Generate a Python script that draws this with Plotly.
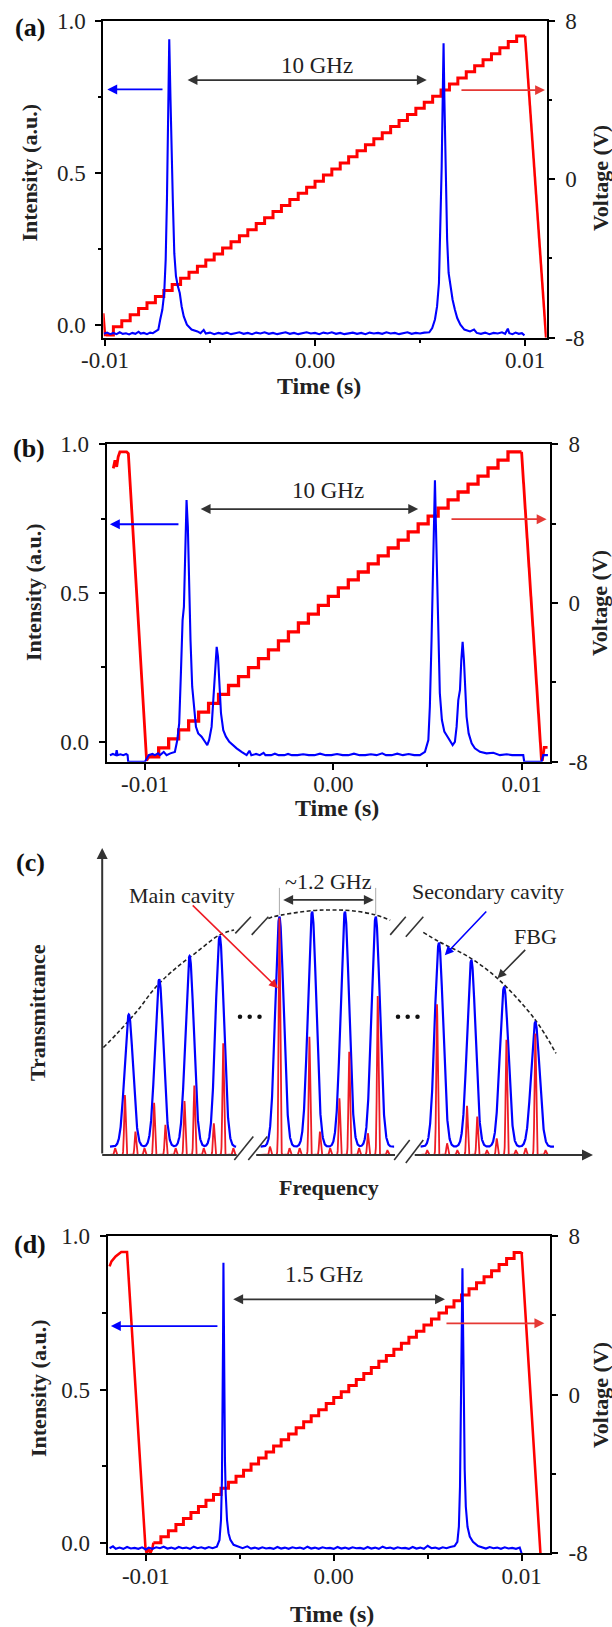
import numpy as np
import plotly.graph_objects as go

W, H = 612, 1627
SERIF = "Liberation Serif"
BLUE = "#0000ff"
RED = "#ff0000"
ARED = "#e53935"
DARK = "#333333"
TXT = "#222222"

# ======================= panel (a) data =======================
a_blue_ms = [-10.05, -9.90, -9.75, -9.60, -9.45, -9.30, -9.15, -9.00, -8.85, -8.70, -8.55, -8.40, -8.30, -8.15, -8.00, -7.85, -7.72, -7.64,
             -7.46, -7.37, -7.27, -7.18, -7.11, -7.05, -6.99, -6.94, -6.88, -6.83, -6.77, -6.70, -6.62, -6.53, -6.44, -6.35, -6.25, -6.10, -5.88, -5.60,
             -5.45, -5.30, -5.20, -5.00, -4.80, -4.60, -4.40, -4.20, -4.00, -3.80, -3.60, -3.40, -3.20, -3.00, -2.80, -2.60, -2.40, -2.20, -2.00,
             -1.80, -1.60, -1.40, -1.20, -1.00, -0.80, -0.60, -0.40, -0.20, 0.00, 0.20, 0.40, 0.60, 0.80, 1.00, 1.20, 1.40, 1.60, 1.80, 2.00, 2.20,
             2.40, 2.60, 2.80, 3.00, 3.20, 3.40, 3.60, 3.80, 4.00, 4.20, 4.40, 4.60, 4.80, 5.00, 5.20,
             5.44, 5.58, 5.71, 5.81, 5.90, 5.97, 6.03, 6.09, 6.12, 6.16, 6.22, 6.29, 6.36, 6.46, 6.55, 6.66, 6.77, 6.92, 7.11, 7.38, 7.57,
             7.70, 7.90, 8.10, 8.30, 8.50, 8.70, 8.90, 9.05, 9.18, 9.25, 9.40, 9.55, 9.70, 9.85, 9.97]
a_blue_I = [-0.029, -0.025, -0.030, -0.026, -0.030, -0.024, -0.029, -0.027, -0.031, -0.026, -0.029, -0.022, -0.028, -0.026, -0.030, -0.025, -0.027, -0.024,
            -0.015, 0.018, 0.050, 0.105, 0.214, 0.411, 0.685, 0.939, 0.740, 0.543, 0.411, 0.236, 0.160, 0.127, 0.105, 0.061, 0.028, 0.001, -0.015, -0.021,
            -0.027, -0.016, -0.028, -0.025, -0.030, -0.026, -0.029, -0.025, -0.030, -0.027, -0.024, -0.029, -0.026, -0.030, -0.025, -0.028, -0.024, -0.029, -0.026,
            -0.030, -0.027, -0.024, -0.029, -0.026, -0.030, -0.027, -0.024, -0.028, -0.026, -0.030, -0.025, -0.028, -0.024, -0.029, -0.026, -0.030, -0.027, -0.025, -0.029, -0.026,
            -0.030, -0.025, -0.028, -0.026, -0.029, -0.024, -0.028, -0.026, -0.030, -0.027, -0.024, -0.029, -0.026, -0.028, -0.025,
            -0.024, -0.010, 0.018, 0.061, 0.138, 0.302, 0.521, 0.794, 0.926, 0.740, 0.521, 0.280, 0.171, 0.116, 0.083, 0.050, 0.023, 0.001, -0.015, -0.021, -0.015,
            -0.026, -0.029, -0.025, -0.030, -0.026, -0.028, -0.024, -0.029, -0.012, -0.027, -0.030, -0.025, -0.029, -0.027, -0.034]
a_step_ms = [-9.95, -9.6, -9.2, -8.8, -8.4, -8.0, -7.6, -7.2, -6.8, -6.4, -6.0, -5.6, -5.2, -4.8, -4.4, -4.0, -3.6, -3.2, -2.8, -2.4, -2.0,
             -1.6, -1.2, -0.8, -0.4, 0.0, 0.4, 0.8, 1.2, 1.6, 2.0, 2.4, 2.8, 3.2, 3.6, 4.0, 4.4, 4.8, 5.2, 5.6, 6.0, 6.4, 6.8, 7.2, 7.6,
             8.0, 8.4, 8.8, 9.2, 9.6, 10.0]
a_step_V = [-7.86, -7.45, -7.15, -6.84, -6.53, -6.23, -5.92, -5.62, -5.31, -5.00, -4.70, -4.39, -4.08, -3.78, -3.47, -3.16, -2.86, -2.55, -2.24, -1.94, -1.63,
            -1.33, -1.02, -0.71, -0.41, -0.10, 0.21, 0.51, 0.82, 1.13, 1.43, 1.74, 2.04, 2.35, 2.66, 2.96, 3.27, 3.58, 3.88, 4.19, 4.50, 4.80, 5.11, 5.42, 5.72,
            6.03, 6.33, 6.64, 6.95, 7.23, 7.23]
a_edge_ms = [-10.08, -10.00, -9.95, None, 10.00, 10.95, 11.00]
a_edge_V = [-6.77, -7.86, -7.86, None, 7.23, -7.61, -8.00]

# ======================= panel (b) data =======================
b_blue_ms = [-11.86, -11.70, -11.55, -11.50, -11.45, -11.30, -11.15, -11.00, -10.92, -10.89, -10.00, -9.91, -9.80, -9.60, -9.47, -9.30, -9.20, -9.00,
             -8.85, -8.65, -8.50, -8.41, -8.28, -8.18, -8.09, -8.00, -7.93, -7.86, -7.79, -7.72, -7.65, -7.58, -7.49, -7.40, -7.29, -7.17, -6.99,
             -6.81, -6.69, -6.59, -6.46, -6.37, -6.28, -6.19, -6.12, -6.05, -5.96, -5.84, -5.70, -5.52, -5.35, -5.13, -4.87, -4.60, -4.45, -4.35,
             -4.10, -3.90, -3.70, -3.60, -3.30, -3.10, -2.90, -2.60, -2.40, -2.20, -1.90, -1.60, -1.30, -1.00, -0.70, -0.40, -0.10, 0.20, 0.50,
             0.80, 1.10, 1.40, 1.70, 2.00, 2.30, 2.60, 2.80, 3.10, 3.40, 3.70, 4.00, 4.30, 4.60, 4.87, 5.05, 5.13, 5.22, 5.28, 5.35, 5.40, 5.45,
             5.52, 5.59, 5.66, 5.77, 5.90, 6.02, 6.19, 6.34, 6.46, 6.55, 6.64, 6.73, 6.80, 6.87, 6.94, 7.01, 7.08, 7.19, 7.35, 7.52, 7.79, 8.14,
             8.50, 8.85, 9.21, 9.50, 9.74, 10.09, 10.14, 11.06, 11.15, 11.40]
b_blue_I = [-0.045, -0.041, -0.045, -0.028, -0.045, -0.042, -0.045, -0.041, -0.045, -0.067, -0.067, -0.058, -0.045, -0.041, -0.045, -0.039, -0.045, -0.034,
            -0.045, -0.039, -0.037, -0.034, 0.006, 0.062, 0.230, 0.409, 0.453, 0.678, 0.812, 0.722, 0.510, 0.342, 0.185, 0.118, 0.050, 0.028, 0.017,
            0.000, -0.011, 0.006, 0.050, 0.140, 0.252, 0.319, 0.286, 0.185, 0.095, 0.039, 0.017, 0.000, -0.011, -0.022, -0.034, -0.045, -0.030, -0.045,
            -0.041, -0.045, -0.037, -0.045, -0.045, -0.040, -0.045, -0.045, -0.041, -0.045, -0.045, -0.042, -0.045, -0.045, -0.040, -0.045, -0.045, -0.041, -0.045,
            -0.045, -0.040, -0.045, -0.045, -0.042, -0.045, -0.039, -0.045, -0.045, -0.040, -0.045, -0.041, -0.045, -0.045, -0.034, 0.006, 0.118, 0.342, 0.510, 0.733, 0.879, 0.733,
            0.510, 0.319, 0.163, 0.073, 0.034, 0.022, 0.006, -0.011, 0.000, 0.050, 0.140, 0.174, 0.274, 0.336, 0.274, 0.163, 0.084, 0.028, -0.005, -0.022, -0.034, -0.039,
            -0.037, -0.045, -0.042, -0.045, -0.045, -0.045, -0.067, -0.067, -0.045, -0.045]
b_step_ms = [-9.80, -9.27, -8.74, -8.21, -7.68, -7.15, -6.62, -6.09, -5.56, -5.03, -4.50, -3.97, -3.44, -2.91, -2.38, -1.85, -1.32, -0.79, -0.26,
             0.27, 0.80, 1.33, 1.86, 2.39, 2.92, 3.45, 3.98, 4.51, 5.04, 5.57, 6.10, 6.63, 7.16, 7.69, 8.22, 8.75, 9.28, 10.00]
b_step_V = [-7.75, -7.30, -6.85, -6.40, -5.95, -5.50, -5.06, -4.61, -4.16, -3.71, -3.26, -2.81, -2.36, -1.91, -1.46, -1.01, -0.56, -0.12, 0.33,
            0.76, 1.16, 1.56, 1.97, 2.37, 2.77, 3.17, 3.58, 3.98, 4.38, 4.78, 5.19, 5.59, 5.99, 6.39, 6.80, 7.20, 7.61, 7.61]
b_edge_ms = [-11.68, -11.59, -11.50, -11.42, -11.33, -10.97, -10.88, -9.91, -9.80, None, 10.00, 11.06, None, 11.10, 11.20, 11.38]
b_edge_V = [6.78, 7.19, 6.86, 7.36, 7.61, 7.61, 7.53, -7.95, -7.75, None, 7.61, -7.95, None, -7.95, -7.28, -7.28]

# ======================= panel (d) data =======================
d_blue_ms = [-11.93, -11.75, -11.60, -11.40, -11.20, -11.00, -10.80, -10.60, -10.40, -10.20, -10.00, -9.85, -9.65, -9.45, -9.25, -9.05, -8.85,
             -8.65, -8.45, -8.25, -8.05, -7.85, -7.65, -7.45, -7.25, -7.05, -6.85, -6.65, -6.45, -6.22, -6.08, -6.00, -5.95, -5.91, -5.89, -5.87,
             -5.85, -5.83, -5.79, -5.75, -5.68, -5.60, -5.50, -5.33, -5.08, -4.85, -4.60, -4.40, -4.20, -4.00, -3.80, -3.60, -3.40, -3.20, -3.00,
             -2.80, -2.60, -2.40, -2.20, -2.00, -1.80, -1.60, -1.40, -1.20, -1.00, -0.80, -0.60, -0.40, -0.20, 0.00, 0.20, 0.40, 0.60, 0.80, 1.00,
             1.20, 1.40, 1.60, 1.80, 2.00, 2.20, 2.40, 2.60, 2.80, 3.00, 3.20, 3.40, 3.60, 3.80, 4.00, 4.20, 4.40, 4.60, 4.80, 5.00, 5.20, 5.40,
             5.60, 5.80, 6.00, 6.20, 6.43, 6.58, 6.66, 6.72, 6.76, 6.80, 6.85, 6.89, 6.93, 6.97, 7.03, 7.12, 7.24, 7.41, 7.68, 7.90, 8.10, 8.30,
             8.50, 8.70, 8.90, 9.10, 9.30, 9.50, 9.70, 9.90, 10.00]
d_blue_I = [-0.016, -0.010, -0.018, -0.014, -0.018, -0.012, -0.017, -0.015, -0.018, -0.013, -0.020, -0.014, -0.018, -0.013, -0.016, -0.011, -0.017,
            -0.014, -0.018, -0.012, -0.016, -0.014, -0.018, -0.011, -0.016, -0.013, -0.017, -0.012, -0.016, -0.011, 0.011, 0.076, 0.206, 0.401, 0.672, 0.913,
            0.727, 0.456, 0.271, 0.163, 0.076, 0.033, 0.011, -0.005, -0.011, -0.016, -0.010, -0.017, -0.014, -0.018, -0.013, -0.017, -0.015, -0.018, -0.012,
            -0.017, -0.014, -0.018, -0.013, -0.016, -0.014, -0.018, -0.011, -0.017, -0.014, -0.018, -0.013, -0.016, -0.015, -0.018, -0.012, -0.017, -0.014, -0.018, -0.013,
            -0.016, -0.015, -0.018, -0.012, -0.017, -0.014, -0.018, -0.011, -0.016, -0.014, -0.018, -0.013, -0.016, -0.015, -0.018, -0.012, -0.017, -0.014, -0.018, -0.008, -0.016, -0.014,
            -0.018, -0.013, -0.016, -0.012, -0.009, 0.005, 0.054, 0.184, 0.401, 0.672, 0.895, 0.672, 0.401, 0.239, 0.119, 0.054, 0.022, 0.005, -0.009, -0.014, -0.017, -0.012,
            -0.016, -0.014, -0.018, -0.013, -0.017, -0.015, -0.018, -0.014, -0.033]
d_step_ms = [-9.6, -9.2, -8.8, -8.4, -8.0, -7.6, -7.2, -6.8, -6.4, -6.0, -5.6, -5.2, -4.8, -4.4, -4.0, -3.6, -3.2, -2.8, -2.4, -2.0, -1.6, -1.2,
             -0.8, -0.4, 0.0, 0.4, 0.8, 1.2, 1.6, 2.0, 2.4, 2.8, 3.2, 3.6, 4.0, 4.4, 4.8, 5.2, 5.6, 6.0, 6.4, 6.8, 7.2, 7.6, 8.0, 8.4, 8.8, 9.2, 9.6, 10.0]
d_step_V = [-7.47, -7.16, -6.86, -6.55, -6.25, -5.94, -5.64, -5.33, -5.03, -4.72, -4.42, -4.11, -3.81, -3.50, -3.20, -2.89, -2.59, -2.28, -1.98, -1.67,
            -1.37, -1.06, -0.76, -0.45, -0.15, 0.15, 0.46, 0.76, 1.07, 1.37, 1.68, 1.98, 2.29, 2.59, 2.90, 3.20, 3.51, 3.81, 4.12, 4.42, 4.73, 5.03, 5.34,
            5.64, 5.95, 6.25, 6.56, 6.86, 7.17, 7.19]
d_edge_ms = [-11.93, -11.83, -11.61, -11.41, -11.31, -11.00, -10.02, -9.96, -9.86, -9.76, -9.65, -9.60, None, 10.00, 11.00]
d_edge_V = [6.47, 6.72, 6.97, 7.14, 7.19, 7.19, -7.73, -8.00, -7.75, -8.00, -7.75, -7.47, None, 7.19, -8.00]

# ======================= panel (c) schematic data =======================
c_blue_f = [2.66, 5.70, 8.74, 11.75, 17.72, 20.99, 24.27, 27.35, 33.67, 36.91, 40.19, 43.31]
c_blue_h = [0.458, 0.572, 0.648, 0.713, 0.776, 0.792, 0.792, 0.776, 0.691, 0.635, 0.548, 0.433]
c_blue_base = 0.027
c_groups = [(0.78, 13.39), (15.84, 29.19), (31.84, 45.18)]
c_red_f = [1.29, 2.27, 3.32, 4.22, 5.19, 6.32, 7.34, 8.23, 9.21, 10.15, 11.16, 12.10, 13.11,
           16.78, 17.72, 18.73, 19.74, 20.72, 21.77, 22.79, 23.72, 24.70, 25.68, 26.57, 27.55, 28.52,
           32.50, 33.48, 34.49, 35.51, 36.48, 37.50, 38.47, 39.45, 40.42, 41.36, 42.34, 43.31, 44.33]
c_red_h = [0.022, 0.195, 0.076, 0.022, 0.170, 0.098, 0.022, 0.176, 0.226, 0.022, 0.103, 0.364, 0.022,
           0.027, 0.771, 0.022, 0.022, 0.385, 0.076, 0.022, 0.185, 0.336, 0.022, 0.071, 0.518, 0.016,
           0.016, 0.491, 0.038, 0.016, 0.160, 0.125, 0.016, 0.054, 0.375, 0.016, 0.022, 0.396, 0.016]
c_fbg_f = [0.12, 1.49, 3.44, 5.39, 7.34, 9.29, 11.75, 13.19, None, 16.62, 17.09, 20.99, 22.94, 24.90, 27.35, 28.80, None,
           32.11, 33.67, 36.60, 39.53, 43.31, 45.38]
c_fbg_T = [0.350, 0.396, 0.467, 0.548, 0.608, 0.657, 0.717, 0.733, None, 0.770, 0.776, 0.796, 0.798, 0.796, 0.782, 0.765, None,
           0.725, 0.695, 0.646, 0.575, 0.440, 0.331]
c_dots_f = [13.78, 14.75, 15.73, 29.58, 30.55, 31.53]
c_dots_T = [0.45, 0.45, 0.45, 0.45, 0.45, 0.45]

for a_, b_ in [(a_blue_ms, a_blue_I), (a_step_ms, a_step_V), (a_edge_ms, a_edge_V), (b_blue_ms, b_blue_I),
               (b_step_ms, b_step_V), (b_edge_ms, b_edge_V), (d_blue_ms, d_blue_I), (d_step_ms, d_step_V),
               (d_edge_ms, d_edge_V), (c_red_f, c_red_h), (c_blue_f, c_blue_h), (c_fbg_f, c_fbg_T)]:
    assert len(a_) == len(b_), (len(a_), len(b_))


def sec(ms):
    return [None if v is None else v * 1e-3 for v in ms]


fig = go.Figure()


def add_time_panel(xa, yv, yi, blue_ms, blue_I, step_ms, step_V, edge_ms, edge_V, red_w):
    fig.add_trace(go.Scatter(x=sec(step_ms), y=step_V, xaxis=xa, yaxis=yv, mode="lines",
                             line=dict(color=RED, width=red_w, shape="hv"), hoverinfo="skip"))
    fig.add_trace(go.Scatter(x=sec(edge_ms), y=edge_V, xaxis=xa, yaxis=yv, mode="lines",
                             line=dict(color=RED, width=red_w * 0.85), hoverinfo="skip"))
    fig.add_trace(go.Scatter(x=sec(blue_ms), y=blue_I, xaxis=xa, yaxis=yi, mode="lines",
                             line=dict(color=BLUE, width=2.1), hoverinfo="skip"))


add_time_panel("x", "y", "y2", a_blue_ms, a_blue_I, a_step_ms, a_step_V, a_edge_ms, a_edge_V, 3.0)
add_time_panel("x2", "y3", "y4", b_blue_ms, b_blue_I, b_step_ms, b_step_V, b_edge_ms, b_edge_V, 3.3)
add_time_panel("x4", "y6", "y7", d_blue_ms, d_blue_I, d_step_ms, d_step_V, d_edge_ms, d_edge_V, 3.0)

# ---- panel (c) curves built from the peak tables ----
bx, by, rx, ry = [], [], [], []
for lo, hi in c_groups:
    f = np.arange(lo, hi + 1e-9, 0.01)
    tb = np.full_like(f, c_blue_base)
    for c, h in zip(c_blue_f, c_blue_h):
        if lo <= c <= hi:
            tb += (h - c_blue_base) * np.exp(-0.5 * ((f - c) / 0.42) ** 2)
    tr = np.zeros_like(f)
    for c, h in zip(c_red_f, c_red_h):
        if lo - 0.5 <= c <= hi + 0.5:
            tr += h * np.exp(-0.5 * ((f - c) / 0.075) ** 2)
    bx += list(f) + [None]
    by += list(tb) + [None]
    rx += list(f) + [None]
    ry += list(tr) + [None]

fig.add_trace(go.Scatter(x=c_fbg_f, y=c_fbg_T, xaxis="x3", yaxis="y5", mode="lines",
                         line=dict(color="#222222", width=1.6, dash="4px,2.5px", shape="spline"), hoverinfo="skip"))
fig.add_trace(go.Scatter(x=bx, y=by, xaxis="x3", yaxis="y5", mode="lines",
                         line=dict(color=BLUE, width=2.2), hoverinfo="skip"))
fig.add_trace(go.Scatter(x=rx, y=ry, xaxis="x3", yaxis="y5", mode="lines",
                         line=dict(color="#ee1c25", width=1.8), hoverinfo="skip"))
fig.add_trace(go.Scatter(x=c_dots_f, y=c_dots_T, xaxis="x3", yaxis="y5", mode="markers",
                         marker=dict(color="#111111", size=4.5), hoverinfo="skip"))

# ======================= axes =======================
TICKFONT = dict(family=SERIF, size=23, color=TXT)


def xd(l, r):
    return [l / W, r / W]


def yd(top, bot):
    return [1 - bot / H, 1 - top / H]


def base_axis(**kw):
    d = dict(showline=True, linecolor="black", linewidth=2, ticks="outside", ticklen=6, tickwidth=2,
             tickcolor="black", showgrid=False, zeroline=False, tickfont=TICKFONT, fixedrange=True,
             automargin=False)
    d.update(kw)
    return d


def minor(vals):
    return dict(tickmode="array", tickvals=vals, ticks="outside", ticklen=3.5, tickwidth=2, tickcolor="black")


x_ticks = dict(tickmode="array", tickvals=[-0.01, 0.0, 0.01], ticktext=["-0.01", "0.00", "0.01"],
               minor=minor([-0.005, 0.005]), ticklabelstandoff=-5)
v_ticks = dict(tickmode="array", tickvals=[-8, 0, 8], ticktext=["-8", "0", "8"], minor=minor([-4, 4]),
               ticklabelstandoff=6)
i_ticks = dict(tickmode="array", tickvals=[0.0, 0.5, 1.0], ticktext=["0.0", "0.5", "1.0"], minor=minor([0.25, 0.75]),
               ticklabelstandoff=5)

panels = [
    ("xaxis", "yaxis", "yaxis2", "x", "y", 103.3, 546.7, 20.7, 337.7, [-0.01008, 0.01103], [-0.0417, 1.0]),
    ("xaxis2", "yaxis3", "yaxis4", "x2", "y3", 106.7, 550.0, 444.2, 761.7, [-0.01203, 0.01151], [-0.067, 1.0]),
    ("xaxis4", "yaxis6", "yaxis7", "x4", "y6", 107.7, 550.0, 1236.0, 1553.3, [-0.01203, 0.01151], [-0.0325, 1.0]),
]
lay = {}
for xn, vn, inn, xid, vid, l, r, t, b, xr, ir in panels:
    lay[xn] = base_axis(domain=xd(l, r), range=xr, anchor=vid, mirror=True, **x_ticks)
    lay[vn] = base_axis(domain=yd(t, b), range=[-8, 8], anchor=xid, side="right", **v_ticks)
    lay[inn] = base_axis(range=ir, anchor=xid, side="left", overlaying=vid, **i_ticks)

lay["xaxis3"] = dict(domain=xd(90, 600), range=[-1.22, 49.78], visible=False, anchor="y5", fixedrange=True,
                     automargin=False)
lay["yaxis5"] = dict(domain=yd(835, 1172), range=[-0.05537, 1.04235], visible=False, anchor="x3", fixedrange=True,
                     automargin=False)

fig.update_layout(template="none", width=W, height=H,
                  margin=dict(l=0, r=0, t=0, b=0, pad=0, autoexpand=False),
                  paper_bgcolor="white", plot_bgcolor="rgba(0,0,0,0)", showlegend=False, **lay)

# ======================= annotations =======================
ann = []


def ptext(px, py, text, size=22, bold=False, angle=0, color=TXT):
    ann.append(dict(x=px / W, y=1 - py / H, xref="paper", yref="paper",
                    text=("<b>%s</b>" % text) if bold else text, showarrow=False,
                    font=dict(family=SERIF, size=size, color=color), textangle=angle,
                    xanchor="center", yanchor="middle"))


def arrow(xr, yr, x0, y0, x1, y1, color, both=False, width=1.8):
    ann.append(dict(x=x1, y=y1, ax=x0, ay=y0, xref=xr, yref=yr, axref=xr, ayref=yr, text="",
                    showarrow=True, arrowhead=2, arrowsize=1.1, arrowwidth=width, arrowcolor=color,
                    arrowside="end+start" if both else "end", standoff=0, startstandoff=0))


ptext(29.5, 27, "(a)", 26, True, color="#111")
ptext(28.5, 448.5, "(b)", 26, True, color="#111")
ptext(30, 862.5, "(c)", 26, True, color="#111")
ptext(30, 1244, "(d)", 26, True, color="#111")

ptext(29.5, 173, "Intensity (a.u.)", 22, True, -90)
ptext(600, 178, "Voltage (V)", 22, True, -90)
ptext(319, 386, "Time (s)", 24, True)
ptext(33, 592, "Intensity (a.u.)", 22, True, -90)
ptext(600, 603, "Voltage (V)", 22, True, -90)
ptext(336.5, 808, "Time (s)", 24, True)
ptext(38, 1388, "Intensity (a.u.)", 22, True, -90)
ptext(600, 1395, "Voltage (V)", 22, True, -90)
ptext(331.6, 1614, "Time (s)", 24, True)
ptext(37, 1013, "Transmittance", 22, True, -90)
ptext(328.6, 1187, "Frequency", 22, True)

ptext(316.7, 65, "10 GHz", 23)
arrow("x", "y2", -0.00614, 0.805, 0.00532, 0.805, DARK, both=True)
arrow("x", "y2", -0.00719, 0.774, -0.00989, 0.774, BLUE)
arrow("x", "y2", 0.00690, 0.772, 0.01095, 0.772, ARED)
ptext(328.3, 490, "10 GHz", 23)
arrow("x2", "y4", -0.00712, 0.782, 0.00451, 0.782, DARK, both=True)
arrow("x2", "y4", -0.00814, 0.731, -0.01186, 0.731, BLUE)
arrow("x2", "y4", 0.00620, 0.748, 0.01133, 0.748, ARED)
ptext(323.8, 1274, "1.5 GHz", 23)
arrow("x4", "y7", -0.00543, 0.794, 0.00592, 0.794, DARK, both=True)
arrow("x4", "y7", -0.00611, 0.707, -0.01186, 0.707, BLUE)
arrow("x4", "y7", 0.00592, 0.716, 0.01121, 0.716, ARED)

ptext(328.7, 881, "~1.2 GHz", 22)
ptext(182, 895, "Main cavity", 22)
ptext(488.3, 892, "Secondary cavity", 22)
ptext(535.5, 936, "FBG", 22)
arrow("x3", "y5", 17.95, 0.831, 27.16, 0.831, DARK, both=True)
arrow("x3", "y5", 8.9, 0.818, 17.56, 0.543, "#ee1c25", width=1.6)
arrow("x3", "y5", 38.55, 0.798, 34.26, 0.651, BLUE, width=1.6)
arrow("x3", "y5", 42.45, 0.673, 39.53, 0.576, DARK, width=1.6)
arrow("x3", "y5", 0, 0, 0, 1.0, DARK, width=2)
arrow("x3", "y5", 31.1, 0, 49.08, 0, DARK, width=2)
fig.update_layout(annotations=ann)

shapes = []


def seg(x0, y0, x1, y1, color=DARK, width=2):
    shapes.append(dict(type="line", xref="x3", yref="y5", x0=x0, y0=y0, x1=x1, y1=y1,
                       line=dict(color=color, width=width)))


seg(0, 0, 13.45, 0)
seg(15.4, 0, 29.28, 0)
for (x0, y0, x1, y1) in [(13.21, -0.016, 15.11, 0.060), (14.61, -0.016, 16.51, 0.060),
                         (29.20, -0.016, 30.75, 0.049), (30.36, -0.026, 32.11, 0.049),
                         (13.31, 0.722, 14.87, 0.776), (14.95, 0.717, 16.62, 0.776),
                         (28.80, 0.717, 30.36, 0.776), (30.36, 0.711, 32.11, 0.776)]:
    seg(x0, y0, x1, y1, width=1.6)
seg(17.72, 0.782, 17.72, 0.870, "#aaaaaa", 1)
seg(27.35, 0.782, 27.35, 0.870, "#aaaaaa", 1)
fig.update_layout(shapes=shapes)

fig.write_html("out.html", config={"displayModeBar": False, "staticPlot": True},
               post_script="document.body.style.margin='0px';document.body.style.overflow='hidden';")
